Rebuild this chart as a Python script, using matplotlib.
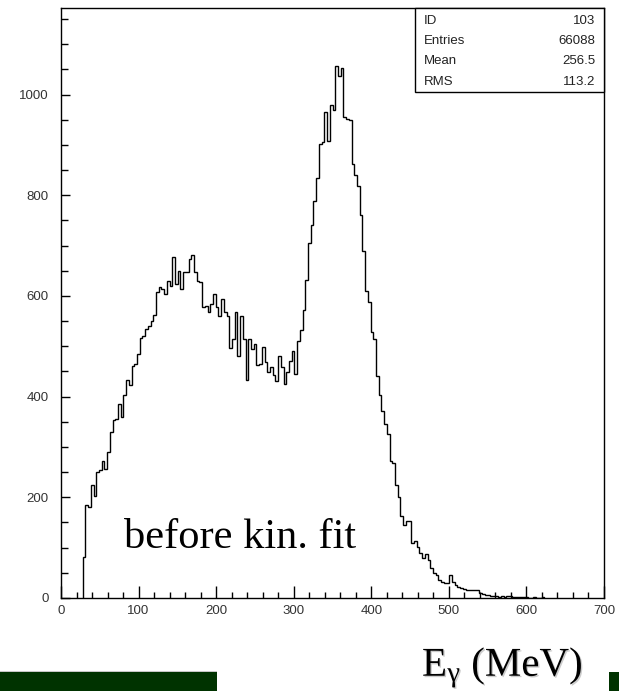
import numpy as np
import matplotlib.pyplot as plt
import matplotlib.patheffects as pe
from matplotlib.patches import Rectangle
from matplotlib.ticker import MultipleLocator

# Histogramm E_gamma vor dem kinematischen Fit (Bins zu 3.5 MeV, ab 28 MeV)
first_edge = 28.0
bin_width = 3.5
counts = [
    82, 185, 180, 225, 203, 251, 255, 273, 257, 291,
    329, 353, 355, 386, 359, 404, 434, 424, 460, 464,
    484, 516, 520, 534, 540, 550, 563,
    608, 618, 614, 604, 629, 620,
    677, 623, 649, 614, 647, 647, 673, 681, 647, 629,
    627, 578, 580, 568, 584, 604, 578, 560, 594, 568,
    560, 496, 514, 568, 480, 560, 514, 434, 514, 494, 504,
    462, 464, 498, 468, 448, 458, 442, 432, 480, 458,
    426, 448, 470, 490, 444,
    510, 532, 572, 631, 705, 740, 789, 835, 901, 906,
    965, 908, 979, 970, 1056, 1036, 1052, 955, 952, 950,
    863, 840, 819, 760, 690, 610, 587, 529, 514, 441, 404, 371,
    345, 325, 272, 269, 225, 200, 163, 145, 152, 152,
    110, 114, 102, 90, 79, 88, 76, 59, 50, 46,
    36, 32, 30, 30, 46, 32, 26, 21, 19, 17,
    15, 15, 15, 16, 15, 9, 7, 6, 6, 4,
    3, 4, 2, 3, 2, 3, 4, 2, 2, 2,
    2, 2, 1, 0, 0, 1, 0, 0, 1,
]

stat_names = ["ID", "Entries", "Mean", "RMS"]
stat_values = ["103", "66088", "256.5", "113.2"]

W, H = 619, 691


def fx(px):
    return px / W


def fy(py):
    return 1 - py / H


fig = plt.figure(figsize=(W / 100, H / 100), dpi=100)
ax = fig.add_axes([fx(61), fy(598), (604 - 61) / W, (598 - 8) / H])

edges = first_edge + bin_width * np.arange(len(counts) + 1)
ax.stairs(counts, edges, baseline=0, color='black', linewidth=1.0)

ax.set_xlim(0, 700)
ax.set_ylim(0, 1172)
ax.xaxis.set_major_locator(MultipleLocator(100))
ax.xaxis.set_minor_locator(MultipleLocator(20))
ax.yaxis.set_major_locator(MultipleLocator(200))
ax.yaxis.set_minor_locator(MultipleLocator(50))
ax.tick_params(which='both', direction='in', top=False, right=False,
               labelsize=9.5, labelcolor='#333333', width=1.0)
ax.tick_params(axis='x', which='major', length=8.5, pad=5)
ax.tick_params(axis='x', which='minor', length=4.5)
ax.tick_params(axis='y', which='major', length=6.5, pad=9)
ax.tick_params(axis='y', which='minor', length=5)
for lab in ax.get_xticklabels() + ax.get_yticklabels():
    lab.set_family('Liberation Sans')
for sp in ax.spines.values():
    sp.set_linewidth(1.0)

# Statistik-Box oben rechts
bx0 = (415 - 61) / (604 - 61)
by0 = (598 - 92) / (598 - 8)
ax.add_patch(Rectangle((bx0, by0), 1 - bx0, 1 - by0, transform=ax.transAxes,
                       facecolor='white', edgecolor='black', linewidth=1.0,
                       clip_on=False, zorder=5))
for i, (name, val) in enumerate(zip(stat_names, stat_values)):
    yy = fy(21 + i * 20.2)
    fig.text(fx(424), yy, name, ha='left', va='center', fontsize=9.5,
             family='Liberation Sans', color='#222222', zorder=6)
    fig.text(fx(595), yy, val, ha='right', va='center', fontsize=9.5,
             family='Liberation Sans', color='#222222', zorder=6)

fig.text(fx(124), fy(548), "before kin. fit", ha='left', va='baseline',
         fontsize=30.5, family='Liberation Serif', color='black')

plt.rcParams['mathtext.fontset'] = 'custom'
plt.rcParams['mathtext.rm'] = 'Liberation Serif'
plt.rcParams['mathtext.it'] = 'Liberation Serif'
fig.text(fx(422), fy(676), r"E$_\mathrm{γ}$ (MeV)", ha='left', va='baseline',
         fontsize=29.5, family='Liberation Serif', color='black',
         path_effects=[pe.withSimplePatchShadow(offset=(1, -1),
                                                shadow_rgbFace='#aaaaaa',
                                                alpha=0.6)])

# gruene Balken unten
fig.patches.append(Rectangle((0, 0), fx(217), 19 / H, transform=fig.transFigure,
                             facecolor='#003300', edgecolor='none'))
fig.patches.append(Rectangle((0, 19 / H), fx(217), 1 / H, transform=fig.transFigure,
                             facecolor='#c8c8c8', edgecolor='none'))
fig.patches.append(Rectangle((fx(609), 0), fx(10), 19 / H, transform=fig.transFigure,
                             facecolor='#003300', edgecolor='none'))

fig.savefig('out.png', dpi=100)
